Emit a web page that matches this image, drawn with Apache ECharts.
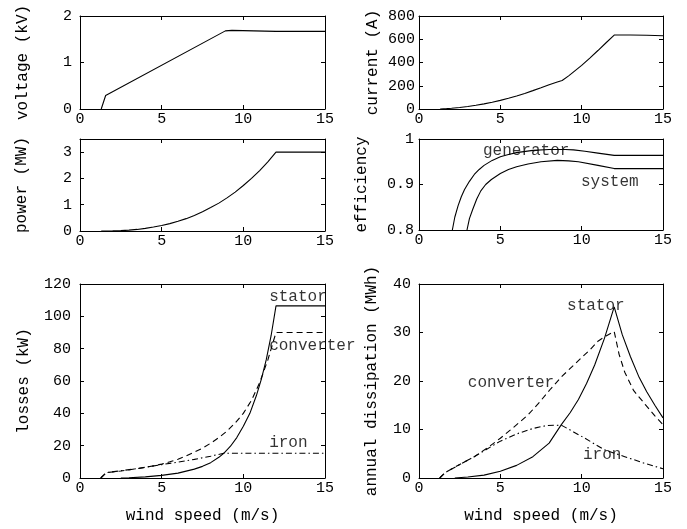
<!DOCTYPE html>
<html><head><meta charset="utf-8">
<script src="https://cdn.jsdelivr.net/npm/echarts@6/dist/echarts.min.js"></script>
<style>html,body{margin:0;padding:0;background:#fff}#c{width:687px;height:529px}</style>
</head><body><div id="c"></div>
<script>
// ---- data (wind speed in m/s as x) ----
const windTicks = [0, 5, 10, 15];
const voltage = [[1.3,0],[1.57,0.29],[8.9,1.68],[9.3,1.69],[12,1.67],[15,1.67]];
const current = [[1.3,0],[1.7,3],[2,6],[2.5,13],[3,21],[3.5,32],[4,44],[4.5,58],[5,74],[5.5,92],[6,112],[6.5,134],[7,158],[7.5,183],[8,209],[8.5,232],[8.8,245],[9.2,285],[9.6,330],[10,375],[10.5,438],[11,503],[11.5,570],[12,636],[13,636],[14,634],[15,630]];
const power = [[1.3,0],[2,0.005],[2.5,0.015],[3,0.035],[3.5,0.06],[4,0.1],[4.5,0.15],[5,0.21],[5.5,0.28],[6,0.37],[6.5,0.47],[7,0.59],[7.5,0.73],[8,0.89],[8.5,1.06],[9,1.26],[9.5,1.48],[10,1.73],[10.5,2.0],[11,2.3],[11.5,2.63],[12,3.0],[15,3.0]];
const effGenerator = [[2.05,0.8],[2.2,0.828],[2.4,0.853],[2.6,0.873],[2.8,0.889],[3.1,0.907],[3.4,0.922],[3.7,0.933],[4.0,0.942],[4.5,0.953],[5.0,0.961],[5.5,0.966],[6.0,0.970],[7.0,0.975],[8.0,0.977],[9.0,0.977],[9.5,0.976],[10.2,0.973],[11,0.969],[12,0.964],[15,0.964]];
const effSystem = [[2.95,0.8],[3.1,0.825],[3.3,0.845],[3.55,0.868],[3.8,0.886],[4.1,0.9],[4.45,0.911],[5.0,0.924],[5.5,0.933],[6.0,0.939],[6.7,0.945],[7.5,0.95],[8.5,0.953],[9.2,0.952],[9.8,0.95],[11,0.942],[12,0.935],[15,0.935]];
const lossStator = [[2.5,0],[3,0.2],[4,0.7],[5,1.6],[6,3.0],[7,5.5],[7.5,7.2],[8,9.5],[8.5,12.8],[8.8,15.3],[9.2,19.5],[9.6,25],[10,32],[10.4,40],[10.8,51],[11.1,61],[11.4,73],[11.7,88],[12,106.5],[15,106.5]];
const lossConverter = [[1.27,0],[1.6,3.3],[2.5,4.3],[3.5,5.8],[4.5,7.5],[5,8.6],[5.5,10],[6,11.6],[6.5,13.6],[7,16],[7.5,18.5],[8,21.5],[8.5,25],[9,29],[9.5,34],[10,40],[10.5,48],[11,59],[11.5,73],[12,90],[15,90]];
const lossIron = [[1.27,0],[1.6,3.3],[2.5,4.5],[3.5,5.8],[5,8.3],[6,9.8],[7,11.5],[8,13.5],[8.8,15.3],[15,15.3]];
const dissStator = [[2.2,0],[3,0.2],[4,0.6],[5,1.4],[6,2.6],[7,4.4],[8,7.2],[8.75,11],[9.3,13.5],[9.8,16.2],[10.3,19.5],[10.8,23.3],[11.4,28.8],[12,35.3],[12.5,29.5],[13,25],[13.5,21],[14,17.8],[14.5,15],[15,12.4]];
const dissConverter = [[1.27,0],[1.6,1.1],[2.5,2.8],[3.4,4.4],[4.2,6.2],[5,8.2],[5.8,10.4],[6.7,13],[7.4,15.6],[8.1,18.4],[8.8,21],[9.8,24.2],[10.5,26.4],[11,28.2],[11.5,29.3],[12,30.2],[12.3,25.5],[12.65,21.8],[13.2,18],[13.9,15.2],[14.5,12.8],[15,11]];
const dissIron = [[1.27,0],[1.6,1.1],[3.4,4.4],[5,7.6],[6.1,9.2],[7,10.2],[7.8,10.8],[8.4,10.9],[8.8,10.8],[9.5,9.5],[10.2,8.2],[11.4,5.8],[12.65,4.4],[13.9,3.0],[15,1.9]];
const effLabels = [[3.93,0.974,'generator'],[9.96,0.905,'system']];
const lossLabels = [[11.58,112,'stator'],[11.58,81.6,'converter'],[11.58,21.6,'iron']];
const dissLabels = [[9.1,35.5,'stator'],[3.0,19.6,'converter'],[10.08,4.7,'iron']];

const FONT = 'Liberation Mono';
const grids = [
  {left:80, top:16, width:245, height:93},
  {left:419, top:16, width:244, height:93},
  {left:80, top:139, width:245, height:92},
  {left:419, top:139, width:244, height:91},
  {left:80, top:284, width:245, height:194},
  {left:419, top:284, width:244, height:194}
];
const panels = [
  {yMin:0, yMax:2, yInt:1, yName:'voltage (kV)', gap:49, lm:8},
  {yMin:0, yMax:800, yInt:200, yName:'current (A)', gap:38, lm:4},
  {yMin:0, yMax:3.5, yInt:1, yName:'power (MW)', gap:50, lm:8, hideMax:true},
  {yMin:0.8, yMax:1, yInt:0.1, yName:'efficiency', gap:49, lm:5},
  {yMin:0, yMax:120, yInt:20, yName:'losses (kW)', gap:48, lm:9, xName:'wind speed (m/s)'},
  {yMin:0, yMax:40, yInt:10, yName:'annual dissipation (MWh)', gap:39, lm:8, xName:'wind speed (m/s)'}
];
const axisLine = {show:true, onZero:false, lineStyle:{color:'#000', width:1}};
const tick = {show:true, inside:true, length:4, lineStyle:{color:'#000', width:1}};
const xAxis = [], yAxis = [];
panels.forEach((p,i)=>{
  xAxis.push({type:'value', gridIndex:i, min:windTicks[0], max:windTicks[windTicks.length-1], interval:5, position:'bottom',
    axisLine, axisTick:tick, splitLine:{show:false},
    axisLabel:{color:'#000', fontFamily:FONT, fontSize:15, margin:3},
    name:p.xName||'', nameLocation:'middle', nameGap:30, nameTextStyle:{color:'#000', fontFamily:FONT, fontSize:16}});
  xAxis.push({type:'value', gridIndex:i, min:0, max:15, interval:5, position:'top',
    axisLine, axisTick:tick, splitLine:{show:false}, axisLabel:{show:false}});
  yAxis.push({type:'value', gridIndex:i, min:p.yMin, max:p.yMax, interval:p.yInt, position:'left',
    axisLine, axisTick:tick, splitLine:{show:false},
    axisLabel:{color:'#000', fontFamily:FONT, fontSize:15, margin:p.lm, showMaxLabel: p.hideMax ? false : true},
    name:p.yName, nameLocation:'middle', nameGap:p.gap, nameRotate:90,
    nameTextStyle:{color:'#000', fontFamily:FONT, fontSize:16}});
  yAxis.push({type:'value', gridIndex:i, min:p.yMin, max:p.yMax, interval:p.yInt, position:'right',
    axisLine, axisTick:tick, splitLine:{show:false}, axisLabel:{show:false}});
});
function line(data, i, type){
  return {type:'line', data, xAxisIndex:2*i, yAxisIndex:2*i, symbol:'none', silent:true,
    lineStyle:{color:'#000', width:1.1, type:type||'solid'}, z:3};
}
function labels(arr, i){
  return {type:'scatter', xAxisIndex:2*i, yAxisIndex:2*i, symbolSize:0, silent:true, z:2,
    data: arr.map(a=>({value:[a[0],a[1]], label:{formatter:a[2]}})),
    label:{show:true, position:[0,0], align:'left', verticalAlign:'middle', color:'#000', fontFamily:FONT, fontSize:16}};
}
const DASH = [6,4], DASHDOT = [6,3,1.5,3];
const series = [
  line(voltage,0), line(current,1), line(power,2),
  line(effGenerator,3), line(effSystem,3), labels(effLabels,3),
  line(lossStator,4), line(lossConverter,4,DASH), line(lossIron,4,DASHDOT), labels(lossLabels,4),
  line(dissStator,5), line(dissConverter,5,DASH), line(dissIron,5,DASHDOT), labels(dissLabels,5)
];
const chart = echarts.init(document.getElementById('c'), null, {renderer:'canvas'});
chart.setOption({animation:false, backgroundColor:'#fff', grid:grids, xAxis, yAxis, series});
</script></body></html>
